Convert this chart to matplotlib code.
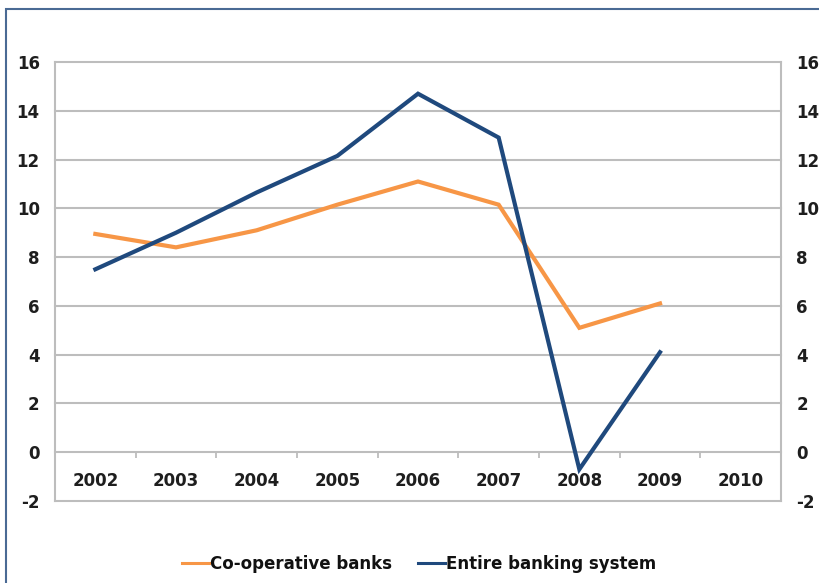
import matplotlib
matplotlib.use("Agg")
import matplotlib.pyplot as plt
from matplotlib.patches import Rectangle

plt.rcParams["font.family"] = ["DejaVu Sans"]

years = ["2002", "2003", "2004", "2005", "2006", "2007", "2008", "2009", "2010"]
coop = [8.95, 8.4, 9.1, 10.15, 11.1, 10.15, 5.1, 6.1]
entire = [7.5, 9.0, 10.65, 12.15, 14.7, 12.9, -0.7, 4.1]
yticks = [-2, 0, 2, 4, 6, 8, 10, 12, 14, 16]

W, H = 820, 583
fig = plt.figure(figsize=(W / 100, H / 100), dpi=100)
fig.patch.set_facecolor("white")

# outer frame (only left and top visible in the crop)
fig.patches.append(Rectangle((6 / W, -0.1), 1.2, 1 - 9 / H + 0.1, transform=fig.transFigure,
                             fill=False, edgecolor="#4a6a94", linewidth=1.5, zorder=0))

ax = fig.add_axes([55 / W, 1 - 501 / H, (781 - 55) / W, (501 - 62) / H])
grid_c = "#bdbdbd"
for v in yticks:
    if v != 0:
        ax.axhline(v, color=grid_c, lw=1.5, zorder=1, clip_on=False)

ax.plot(range(len(coop)), coop, color="#f79646", lw=3, solid_joinstyle="miter", zorder=3,
        label="Co-operative banks")
ax.plot(range(len(entire)), entire, color="#1f497d", lw=3, solid_joinstyle="miter", zorder=3,
        label="Entire banking system")

ax.set_xlim(-0.5, len(years) - 0.5)
ax.set_ylim(-2, 16)

ax.spines["top"].set_visible(False)
for s in ["left", "right", "bottom"]:
    ax.spines[s].set_color(grid_c)
    ax.spines[s].set_linewidth(1.5)
ax.spines["bottom"].set_position(("data", 0))

ax.set_xticks(range(len(years)))
ax.set_xticklabels(years)
ax.set_xticks([i + 0.5 for i in range(len(years) - 1)], minor=True)
ax.tick_params(axis="x", which="major", length=0, pad=14)
ax.tick_params(axis="x", which="minor", length=4, direction="out", color=grid_c, width=1.3)

ax.set_yticks(yticks)
ax.set_yticklabels([str(v) for v in yticks])
ax.tick_params(axis="y", length=0, pad=11, left=False, right=False, labelleft=True, labelright=True)

fs = 12
for t in ax.xaxis.get_major_ticks():
    t.label1.set_fontweight("bold")
    t.label1.set_fontsize(fs)
    t.label1.set_color("#1e1e1e")
for t in ax.yaxis.get_major_ticks():
    for lab in (t.label1, t.label2):
        lab.set_fontweight("bold")
        lab.set_fontsize(fs)
        lab.set_color("#1e1e1e")

leg = fig.legend(loc="center", bbox_to_anchor=(419 / W, 1 - 564 / H), ncol=2, frameon=False,
                 handlelength=1.6, handletextpad=0.05, columnspacing=1.6,
                 prop={"weight": "bold", "size": 12})
for line in leg.get_lines():
    line.set_linewidth(2.2)
for t in leg.get_texts():
    t.set_color("#111111")

fig.savefig("out.png", dpi=100, facecolor="white")
